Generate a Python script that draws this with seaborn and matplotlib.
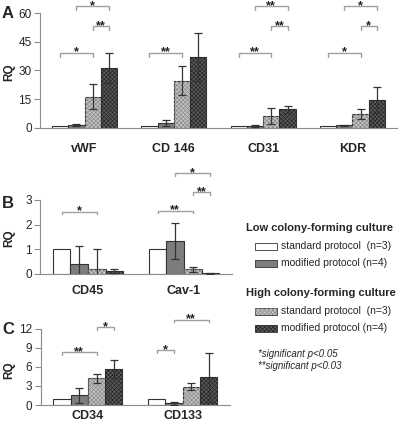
import numpy as np
import pandas as pd
import matplotlib
matplotlib.use("Agg")
import matplotlib.pyplot as plt
from matplotlib.patches import Rectangle
import seaborn as sns

# ---------------------------------------------------------------------------
# data (RQ means and error half-widths)
# ---------------------------------------------------------------------------
groups = ["low_std", "low_mod", "high_std", "high_mod"]

a_genes = ["vWF", "CD 146", "CD31", "KDR"]
a_low_std = [1.0, 1.0, 1.0, 1.0]
a_low_mod = [1.5, 2.3, 0.8, 1.2]
a_high_std = [16.3, 24.5, 6.0, 7.2]
a_high_mod = [31.5, 37.2, 9.6, 14.5]
a_err_low_mod = [0.4, 1.5, 0.5, 0.4]
a_err_high_std = [6.4, 7.6, 4.1, 2.8]
a_err_high_mod = [7.8, 12.5, 1.8, 6.8]
# (gene, bar i, bar j, bracket height, label)
a_sig = [(0, 0, 2, 39.3, "*"), (0, 1, 3, 63.8, "*"), (0, 2, 3, 53.3, "**"),
         (1, 0, 2, 39.3, "**"),
         (2, 0, 2, 39.3, "**"), (2, 1, 3, 63.8, "**"), (2, 2, 3, 53.3, "**"),
         (3, 0, 2, 39.3, "*"), (3, 1, 3, 63.8, "*"), (3, 2, 3, 53.3, "*")]

b_genes = ["CD45", "Cav-1"]
b_low_std = [1.0, 1.0]
b_low_mod = [0.40, 1.34]
b_high_std = [0.19, 0.19]
b_high_mod = [0.13, 0.04]
b_err_low_mod = [0.73, 0.73]
b_err_high_std = [0.81, 0.11]
b_err_high_mod = [0.07, 0.02]
b_sig = [(0, 0, 2, 2.52, "*"),
         (1, 0, 2, 2.56, "**"), (1, 1, 3, 4.08, "*"), (1, 2, 3, 3.31, "**")]

c_genes = ["CD34", "CD133"]
c_low_std = [1.0, 1.0]
c_low_mod = [1.5, 0.27]
c_high_std = [4.2, 2.9]
c_high_mod = [5.7, 4.35]
c_err_low_mod = [1.2, 0.2]
c_err_high_std = [0.75, 0.5]
c_err_high_mod = [1.4, 3.9]
c_sig = [(0, 0, 2, 8.3, "**"), (0, 2, 3, 12.2, "*"),
         (1, 0, 1, 8.65, "*"), (1, 1, 3, 13.4, "**")]

legend_low = ["standard protocol  (n=3)", "modified protocol (n=4)"]
legend_high = ["standard protocol  (n=3)", "modified protocol (n=4)"]

# ---------------------------------------------------------------------------
# styling
# ---------------------------------------------------------------------------
sns.set_style("white")
plt.rcParams["font.family"] = ["Liberation Sans", "DejaVu Sans"]
plt.rcParams["hatch.linewidth"] = 0.5

FACE = {"low_std": "#ffffff", "low_mod": "#7d7d7d",
        "high_std": "#c4c4c4", "high_mod": "#5a5a5a"}
HATCH = {"high_std": "#8a8a8a", "high_mod": "#262626"}
EDGE = "#333333"
AXC = "#8c8c8c"
BRK = "#a0a0a0"
HPAT = "xxxxxxxx"

W, H = 400, 424
fig = plt.figure(figsize=(W / 100, H / 100), dpi=100)


def px_axes(x0, x1, y_top, y_bot):
    return fig.add_axes([x0 / W, 1 - y_bot / H, (x1 - x0) / W, (y_bot - y_top) / H])


def panel(ax, genes, means, errs, sig, ymax, yticks, label_pad):
    rows = []
    for g, vals in zip(groups, means):
        for gene, v in zip(genes, vals):
            rows.append({"gene": gene, "group": g, "rq": v})
    df = pd.DataFrame(rows)
    sns.barplot(data=df, x="gene", y="rq", hue="group", hue_order=groups,
                palette=FACE, width=0.73, saturation=1, gap=0,
                edgecolor=EDGE, linewidth=0.8, errorbar=None, legend=False, ax=ax)

    # fine hatching on the high colony-forming bars
    for k, g in enumerate(groups):
        if g not in HATCH:
            continue
        for p in ax.containers[k]:
            ax.add_patch(Rectangle((p.get_x(), p.get_y()), p.get_width(), p.get_height(),
                                   fill=False, hatch=HPAT, edgecolor=HATCH[g],
                                   linewidth=0, zorder=p.get_zorder() + 0.1))

    # error bars (the calibrator bar has none)
    for k, e in zip([1, 2, 3], errs):
        cont = ax.containers[k]
        xs = [p.get_x() + p.get_width() / 2 for p in cont]
        ys = [p.get_height() for p in cont]
        ax.errorbar(xs, ys, yerr=e, fmt="none", ecolor=EDGE, elinewidth=0.9,
                    capsize=2.6, capthick=0.9, zorder=5)

    # significance brackets
    tick = 0.035 * ymax
    for gi, i, j, y, txt in sig:
        pi, pj = ax.containers[i][gi], ax.containers[j][gi]
        xi = pi.get_x() + pi.get_width() / 2
        xj = pj.get_x() + pj.get_width() / 2
        ax.plot([xi, xi, xj, xj], [y - tick, y, y, y - tick], color=BRK, lw=1,
                clip_on=False, zorder=6)
        ax.annotate(txt, ((xi + xj) / 2, y), xytext=(0, -2.0), textcoords="offset points",
                    ha="center", va="baseline", fontsize=9, fontweight="bold",
                    color="#222222", annotation_clip=False)

    n = len(genes)
    ax.set_xlim(-0.5, n - 0.5)
    ax.set_ylim(0, ymax)
    ax.set_yticks(yticks)
    ax.set_xticks(np.arange(-0.5, n), minor=True)
    ax.set_xlabel("")
    ax.set_ylabel("")
    ax.tick_params(axis="x", which="major", length=0, pad=label_pad, labelsize=9)
    ax.tick_params(axis="x", which="minor", length=4, direction="out", color=AXC, width=0.8)
    ax.tick_params(axis="y", length=4, direction="out", color=AXC, width=0.8,
                   labelsize=8.5, pad=2, left=True)
    for lab in ax.get_xticklabels():
        lab.set_fontweight("bold")
    sns.despine(ax=ax)
    for s in ["left", "bottom"]:
        ax.spines[s].set_color(AXC)
        ax.spines[s].set_linewidth(0.8)


ax_a = px_axes(40, 397, 13.3, 127.7)
panel(ax_a, a_genes, [a_low_std, a_low_mod, a_high_std, a_high_mod],
      [a_err_low_mod, a_err_high_std, a_err_high_mod], a_sig, 60, [0, 15, 30, 45, 60], 11)

ax_b = px_axes(40, 232, 199.9, 274)
panel(ax_b, b_genes, [b_low_std, b_low_mod, b_high_std, b_high_mod],
      [b_err_low_mod, b_err_high_std, b_err_high_mod], b_sig, 3, [0, 1, 2, 3], 8)

ax_c = px_axes(40.5, 230, 328.7, 405)
panel(ax_c, c_genes, [c_low_std, c_low_mod, c_high_std, c_high_mod],
      [c_err_low_mod, c_err_high_std, c_err_high_mod], c_sig, 12, [0, 3, 6, 9, 12], 3.5)


def ftext(x, y, s, **kw):
    fig.text(x / W, 1 - y / H, s, **kw)


# panel letters and y labels
for letter, y_letter, y_rq in [("A", 14, 72), ("B", 203, 238), ("C", 330, 370)]:
    ftext(8, y_letter, letter, ha="center", va="center", fontsize=12, fontweight="bold")
    ftext(9, y_rq, "RQ", ha="center", va="center", fontsize=8.5, fontweight="bold", rotation=90)


# legend
def legend_patch(y, g):
    xy = (255 / W, 1 - (y + 3.5) / H)
    fig.patches.append(Rectangle(xy, 22 / W, 7 / H, transform=fig.transFigure,
                                 facecolor=FACE[g], edgecolor=EDGE, linewidth=0.6))
    if g in HATCH:
        fig.patches.append(Rectangle(xy, 22 / W, 7 / H, transform=fig.transFigure,
                                     fill=False, hatch=HPAT, edgecolor=HATCH[g], linewidth=0))


ftext(246, 228, "Low colony-forming culture", ha="left", va="center",
      fontsize=8, fontweight="bold")
for y, g, s in zip([246, 263], ["low_std", "low_mod"], legend_low):
    legend_patch(y, g)
    ftext(281, y, s, ha="left", va="center", fontsize=7.5)

ftext(246, 293, "High colony-forming culture", ha="left", va="center",
      fontsize=8, fontweight="bold")
for y, g, s in zip([311, 328], ["high_std", "high_mod"], legend_high):
    legend_patch(y, g)
    ftext(281, y, s, ha="left", va="center", fontsize=7.5)

ftext(258, 354, "*significant p<0.05", ha="left", va="center", fontsize=7, style="italic")
ftext(258, 366, "**significant p<0.03", ha="left", va="center", fontsize=7, style="italic")

fig.savefig("out.png", dpi=100)
